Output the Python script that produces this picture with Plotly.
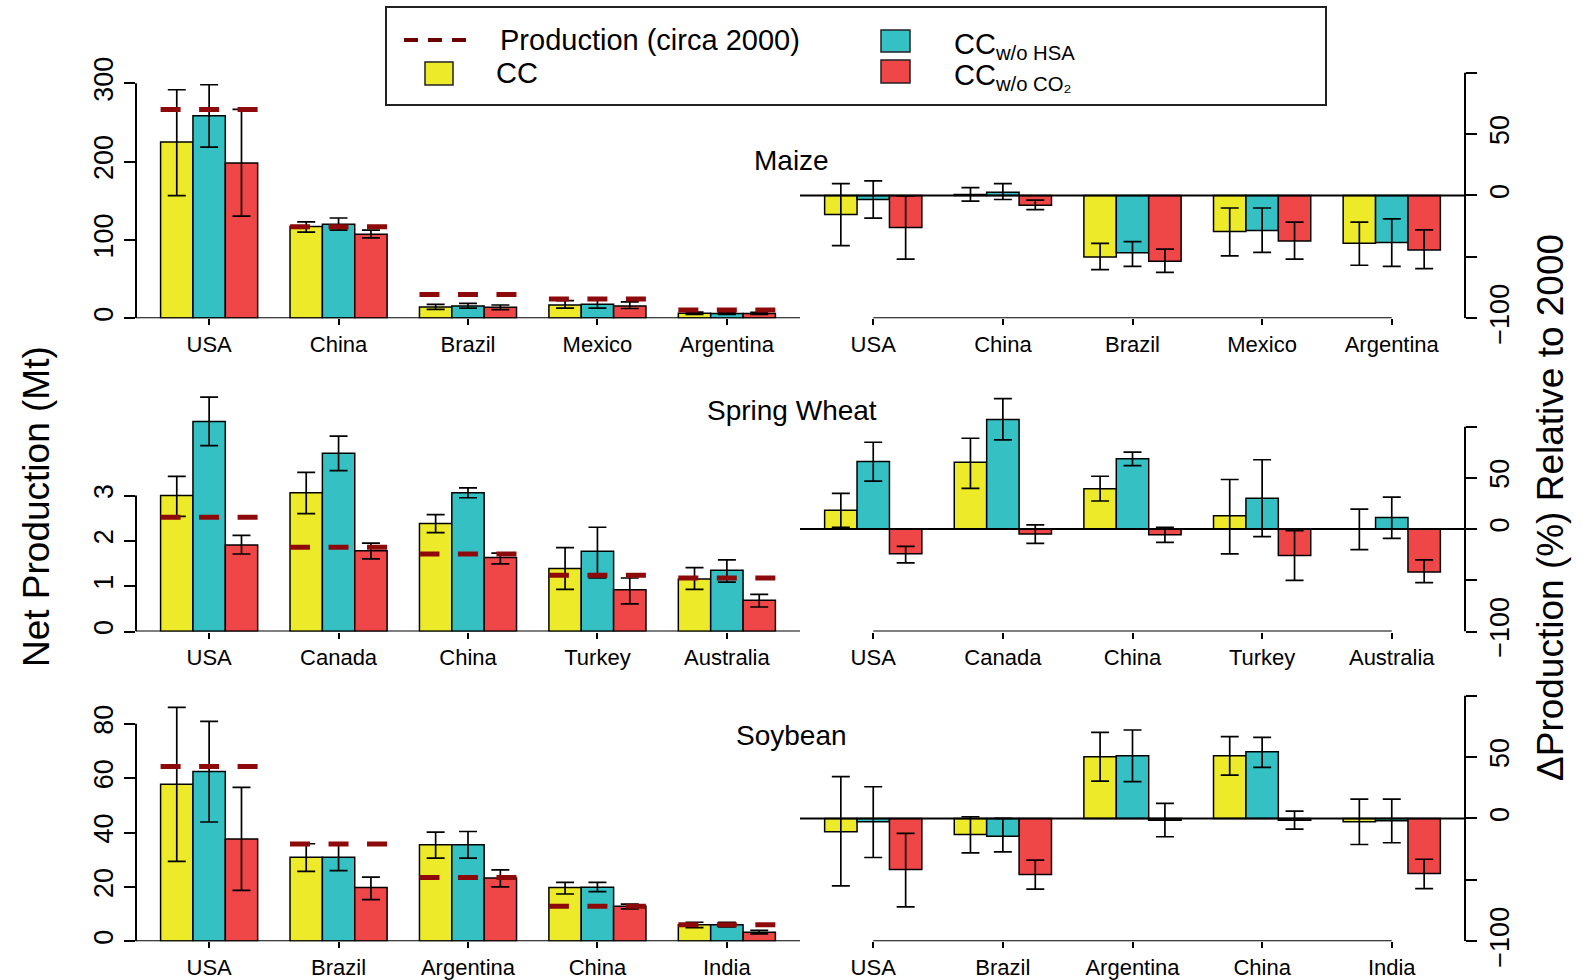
import plotly.graph_objects as go

W, H = 1583, 980
FONT = "Liberation Sans, Arial, Helvetica, sans-serif"

# ---------------- data ----------------
series_labels = ["CC", "CC w/o HSA", "CC w/o CO2"]
series_colors = ["#EDEA2A", "#35C1C4", "#EF4747"]
prod_color = "#8E0A0A"

maize_countries = ["USA", "China", "Brazil", "Mexico", "Argentina"]
maize_prod = [266.5, 116.7, 30.5, 24.6, 10.6]
maize_net_cc = [225, 117, 14.4, 17.0, 6.3]
maize_net_cc_hi = [291.6, 123, 17.8, 22.5, 8.0]
maize_net_cc_lo = [156.6, 110, 11.4, 13.0, 5.0]
maize_net_hsa = [258.5, 120, 15.7, 17.8, 6.0]
maize_net_hsa_hi = [298, 128, 19.0, 23.0, 7.5]
maize_net_hsa_lo = [218.5, 112.5, 13.0, 13.0, 5.0]
maize_net_co2 = [198.2, 107.4, 14.0, 15.7, 6.0]
maize_net_co2_hi = [266.5, 112.5, 17.0, 21.0, 7.5]
maize_net_co2_lo = [130.3, 102.7, 11.0, 12.5, 5.0]
maize_pct_cc = [-15.6, 0.8, -50, -29.4, -39]
maize_pct_cc_hi = [9.6, 6.3, -39, -10.2, -21.7]
maize_pct_cc_lo = [-40.9, -4.7, -60.4, -49.2, -56.8]
maize_pct_hsa = [-3.3, 2.7, -46.7, -28.6, -38.4]
maize_pct_hsa_hi = [11.8, 9.6, -37.6, -10.2, -19]
maize_pct_hsa_lo = [-18.4, -3.3, -57.7, -46.4, -57.7]
maize_pct_co2 = [-26.1, -8, -53.5, -37.1, -44.5]
maize_pct_co2_hi = [-0.3, -3.8, -43.7, -21.7, -28]
maize_pct_co2_lo = [-51.9, -11.5, -62.6, -51.9, -59.5]

wheat_countries = ["USA", "Canada", "China", "Turkey", "Australia"]
wheat_prod = [2.52, 1.86, 1.71, 1.24, 1.18]
wheat_net_cc = [3.0, 3.06, 2.38, 1.39, 1.16]
wheat_net_cc_hi = [3.42, 3.51, 2.58, 1.85, 1.41]
wheat_net_cc_lo = [2.54, 2.60, 2.18, 0.93, 0.93]
wheat_net_hsa = [4.63, 3.93, 3.06, 1.77, 1.35]
wheat_net_hsa_hi = [5.17, 4.31, 3.17, 2.30, 1.58]
wheat_net_hsa_lo = [4.10, 3.55, 2.95, 1.18, 1.09]
wheat_net_co2 = [1.91, 1.78, 1.63, 0.92, 0.69]
wheat_net_co2_hi = [2.12, 1.95, 1.73, 1.18, 0.82]
wheat_net_co2_lo = [1.71, 1.60, 1.49, 0.61, 0.54]
wheat_pct_cc = [18.4, 65.2, 39.3, 12.9, 0.0]
wheat_pct_cc_hi = [34.8, 88.7, 51.6, 48.4, 19.4]
wheat_pct_cc_lo = [1.6, 39.7, 27.4, -24.2, -20]
wheat_pct_hsa = [66.1, 107, 68.7, 30, 11.3]
wheat_pct_hsa_hi = [84.8, 127.4, 75.1, 67.7, 31.3]
wheat_pct_hsa_lo = [46.8, 87.1, 61.9, -7.4, -9.1]
wheat_pct_co2 = [-24.2, -4.8, -5.5, -25.8, -42]
wheat_pct_co2_hi = [-16.8, 4.2, 1.6, -1.6, -30]
wheat_pct_co2_lo = [-32.9, -13.9, -12.9, -50, -52.3]

soy_countries = ["USA", "Brazil", "Argentina", "China", "India"]
soy_prod = [64.3, 35.8, 23.5, 12.9, 6.1]
soy_net_cc = [57.8, 30.9, 35.5, 19.8, 6.1]
soy_net_cc_hi = [86.1, 35.9, 40.2, 21.7, 7.0]
soy_net_cc_lo = [29.4, 25.7, 30.6, 17.4, 5.0]
soy_net_hsa = [62.5, 30.9, 35.5, 19.9, 6.1]
soy_net_hsa_hi = [80.9, 35.9, 40.4, 21.7, 7.0]
soy_net_hsa_lo = [43.9, 26.0, 30.6, 18.3, 5.3]
soy_net_co2 = [37.6, 19.8, 23.3, 12.9, 3.3]
soy_net_co2_hi = [56.6, 23.6, 26.3, 13.7, 4.0]
soy_net_co2_lo = [18.7, 15.3, 20.0, 11.9, 2.7]
soy_pct_cc = [-10.9, -13, 50.3, 51.1, -2.7]
soy_pct_cc_hi = [34, 1.4, 70.1, 66.6, 15.8]
soy_pct_cc_lo = [-54.9, -28, 30.4, 35.3, -21.2]
soy_pct_hsa = [-2.7, -14.4, 51.1, 54.3, -1.9]
soy_pct_hsa_hi = [25.8, 0.0, 72, 66, 15.8]
soy_pct_hsa_lo = [-31.8, -27.2, 29.9, 41.6, -19.8]
soy_pct_co2 = [-41.6, -45.7, -1.4, -1.4, -44.8]
soy_pct_co2_hi = [-12.2, -34, 12.2, 6, -33.2]
soy_pct_co2_lo = [-72, -57.6, -14.9, -8.7, -57.1]

crop_titles = ["Maize", "Spring Wheat", "Soybean"]
net_ticks = [[0, 100, 200, 300], [0, 1, 2, 3], [0, 20, 40, 60, 80]]
net_ranges = [[0, 313.5], [0, 5.42], [0, 90.4]]
pct_label_ticks = [-100, 0, 50]
pct_label_text = ["\u2212100", "0", "50"]
pct_minor_ticks = [-50, 100]
pct_ranges = [[-100, 100], [-100, 139.9], [-100, 100]]

# ---------------- layout geometry (pixels) ----------------
left_px = (136, 800)
right_px = (800, 1465)
row_px = [(72.6, 318.3), (385.8, 631.5), (695.6, 941.3)]
XR = [0.24, 20.76]


def xdom(p):
    return [p[0] / W, p[1] / W]


def ydom(p):
    return [1 - p[1] / H, 1 - p[0] / H]


crops = [
    (maize_countries, maize_prod,
     [(maize_net_cc, maize_net_cc_hi, maize_net_cc_lo),
      (maize_net_hsa, maize_net_hsa_hi, maize_net_hsa_lo),
      (maize_net_co2, maize_net_co2_hi, maize_net_co2_lo)],
     [(maize_pct_cc, maize_pct_cc_hi, maize_pct_cc_lo),
      (maize_pct_hsa, maize_pct_hsa_hi, maize_pct_hsa_lo),
      (maize_pct_co2, maize_pct_co2_hi, maize_pct_co2_lo)]),
    (wheat_countries, wheat_prod,
     [(wheat_net_cc, wheat_net_cc_hi, wheat_net_cc_lo),
      (wheat_net_hsa, wheat_net_hsa_hi, wheat_net_hsa_lo),
      (wheat_net_co2, wheat_net_co2_hi, wheat_net_co2_lo)],
     [(wheat_pct_cc, wheat_pct_cc_hi, wheat_pct_cc_lo),
      (wheat_pct_hsa, wheat_pct_hsa_hi, wheat_pct_hsa_lo),
      (wheat_pct_co2, wheat_pct_co2_hi, wheat_pct_co2_lo)]),
    (soy_countries, soy_prod,
     [(soy_net_cc, soy_net_cc_hi, soy_net_cc_lo),
      (soy_net_hsa, soy_net_hsa_hi, soy_net_hsa_lo),
      (soy_net_co2, soy_net_co2_hi, soy_net_co2_lo)],
     [(soy_pct_cc, soy_pct_cc_hi, soy_pct_cc_lo),
      (soy_pct_hsa, soy_pct_hsa_hi, soy_pct_hsa_lo),
      (soy_pct_co2, soy_pct_co2_hi, soy_pct_co2_lo)]),
]

fig = go.Figure()
layout = {}
shapes = []
annotations = []
LW = 2
TICK = dict(ticks="outside", tickcolor="black", tickwidth=1.8)


def add_bars(k, series):
    xa, ya = ("x" if k == 1 else f"x{k}"), ("y" if k == 1 else f"y{k}")
    for s, (vals, hi, lo) in enumerate(series):
        xs = [4 * g + 1.5 + s for g in range(len(vals))]
        fig.add_trace(go.Bar(
            x=xs, y=vals, width=1, xaxis=xa, yaxis=ya, showlegend=False,
            name=series_labels[s],
            marker=dict(color=series_colors[s], line=dict(color="black", width=1.5)),
            error_y=dict(type="data", symmetric=False,
                         array=[h - v for h, v in zip(hi, vals)],
                         arrayminus=[v - l for v, l in zip(vals, lo)],
                         color="black", thickness=1.7, width=9),
        ))


for r, (countries, prod, net, pct) in enumerate(crops):
    n = len(countries)
    centers = [4 * g + 2.5 for g in range(n)]
    for side in (0, 1):
        k = 2 * r + 1 + side
        xa_key = "xaxis" if k == 1 else f"xaxis{k}"
        ya_key = "yaxis" if k == 1 else f"yaxis{k}"
        xa_ref = "x" if k == 1 else f"x{k}"
        ya_ref = "y" if k == 1 else f"y{k}"
        layout[xa_key] = dict(
            domain=xdom(left_px if side == 0 else right_px), range=XR,
            anchor=ya_ref, tickvals=centers, ticktext=countries,
            ticklen=6, showline=False, showgrid=False, zeroline=False,
            tickfont=dict(size=22, color="black", family=FONT), **TICK)
        if side == 0:
            add_bars(k, net)
            tv = net_ticks[r]
            layout[ya_key] = dict(
                domain=ydom(row_px[r]), range=net_ranges[r], anchor=xa_ref,
                side="left", tickvals=tv, ticktext=[str(t) for t in tv],
                tickangle=-90, ticklen=11, showline=False, showgrid=False,
                zeroline=False, tickfont=dict(size=27, color="black", family=FONT),
                **TICK)
            # production (circa 2000) dashed segments
            px, py = [], []
            for g in range(n):
                px += [4 * g + 1, 4 * g + 4, None]
                py += [prod[g], prod[g], None]
            fig.add_trace(go.Scatter(
                x=px, y=py, mode="lines", xaxis=xa_ref, yaxis=ya_ref,
                showlegend=False, name="Production (circa 2000)",
                line=dict(color=prod_color, width=5, dash="20px,18.5px")))
            shapes.append(dict(type="line", xref=f"{xa_ref} domain", yref=ya_ref,
                               x0=0, x1=0, y0=tv[0], y1=tv[-1],
                               line=dict(color="black", width=LW), layer="above"))
            shapes.append(dict(type="line", xref=f"{xa_ref} domain", yref=ya_ref,
                               x0=0, x1=1, y0=0, y1=0,
                               line=dict(color="black", width=LW), layer="above"))
        else:
            add_bars(k, pct)
            layout[ya_key] = dict(
                domain=ydom(row_px[r]), range=pct_ranges[r], anchor=xa_ref,
                side="right", tickvals=pct_label_ticks, ticktext=pct_label_text,
                tickangle=-90, ticklen=11, showline=False, showgrid=False,
                zeroline=False, tickfont=dict(size=27, color="black", family=FONT),
                minor=dict(tickmode="array", tickvals=pct_minor_ticks, ticklen=11,
                           showgrid=False, **TICK),
                **TICK)
            shapes.append(dict(type="line", xref=f"{xa_ref} domain", yref=ya_ref,
                               x0=0, x1=1, y0=0, y1=0,
                               line=dict(color="black", width=LW), layer="above"))
            shapes.append(dict(type="line", xref=xa_ref, yref=ya_ref,
                               x0=centers[0], x1=centers[-1],
                               y0=pct_ranges[r][0], y1=pct_ranges[r][0],
                               line=dict(color="black", width=LW), layer="above"))
            shapes.append(dict(type="line", xref=f"{xa_ref} domain", yref=ya_ref,
                               x0=1, x1=1, y0=pct_label_ticks[0], y1=pct_minor_ticks[-1],
                               line=dict(color="black", width=LW), layer="above"))

# panel titles
title_pos = [(791, 161), (792, 410), (791, 735)]
for t, (tx, ty) in zip(crop_titles, title_pos):
    annotations.append(dict(text=t, x=tx / W, y=1 - ty / H, xref="paper", yref="paper",
                            xanchor="center", yanchor="middle", showarrow=False,
                            font=dict(size=28, color="black", family=FONT)))

# axis titles
annotations.append(dict(text="Net Production (Mt)", x=36 / W, y=1 - 507 / H,
                        xref="paper", yref="paper", textangle=-90, showarrow=False,
                        xanchor="center", yanchor="middle",
                        font=dict(size=37, color="black", family=FONT)))
annotations.append(dict(text="\u0394Production (%) Relative to 2000", x=1550 / W,
                        y=1 - 508 / H, xref="paper", yref="paper", textangle=-90,
                        showarrow=False, xanchor="center", yanchor="middle",
                        font=dict(size=37, color="black", family=FONT)))


# legend (drawn in paper coordinates)
def P(xp, yp):
    return xp / W, 1 - yp / H


bx0, by0 = P(386, 7)
bx1, by1 = P(1326, 105)
shapes.append(dict(type="rect", xref="paper", yref="paper", x0=bx0, x1=bx1, y0=by1, y1=by0,
                   line=dict(color="#222222", width=2), fillcolor="white", layer="above"))
lx0, ly = P(404, 40)
lx1, _ = P(476, 40)
shapes.append(dict(type="line", xref="paper", yref="paper", x0=lx0, x1=lx1, y0=ly, y1=ly,
                   line=dict(color="#6B0000", width=4, dash="14px,10px"), layer="above"))
legend_boxes = [((425, 62, 453, 85), series_colors[0]),
                ((881, 30, 910, 52), series_colors[1]),
                ((881, 60, 910, 83), series_colors[2])]
for (x0, y0, x1, y1), c in legend_boxes:
    a0, b0 = P(x0, y0)
    a1, b1 = P(x1, y1)
    shapes.append(dict(type="rect", xref="paper", yref="paper", x0=a0, x1=a1, y0=b1, y1=b0,
                       fillcolor=c, line=dict(color="#222222", width=1.5), layer="above"))

legend_texts = [("Production (circa 2000)", 498, 40),
                ("CC", 494, 73),
                ("CC<sub>w/o HSA</sub>", 952, 46),
                ("CC<sub>w/o CO\u2082</sub>", 952, 77)]
for t, tx, ty in legend_texts:
    ax_, ay_ = P(tx, ty)
    annotations.append(dict(text=t, x=ax_, y=ay_, xref="paper", yref="paper",
                            xanchor="left", yanchor="middle", showarrow=False,
                            font=dict(size=29, color="black", family=FONT)))

fig.update_layout(
    width=W, height=H, margin=dict(l=0, r=0, t=0, b=0, autoexpand=False),
    paper_bgcolor="white", plot_bgcolor="white",
    barmode="overlay", showlegend=False,
    font=dict(family=FONT, color="black"),
    shapes=shapes, annotations=annotations, **layout)

# pin the figure to the page's top-left corner so the page is exactly the figure
pin_page = (
    "var gd=document.getElementById('{plot_id}');"
    "document.documentElement.style.margin='0';document.documentElement.style.padding='0';"
    "document.body.style.margin='0';document.body.style.padding='0';"
    "gd.style.position='absolute';gd.style.left='0px';gd.style.top='0px';gd.style.zIndex='10';"
)

fig.write_html("out.html", post_script=pin_page, config={"displayModeBar": False})
